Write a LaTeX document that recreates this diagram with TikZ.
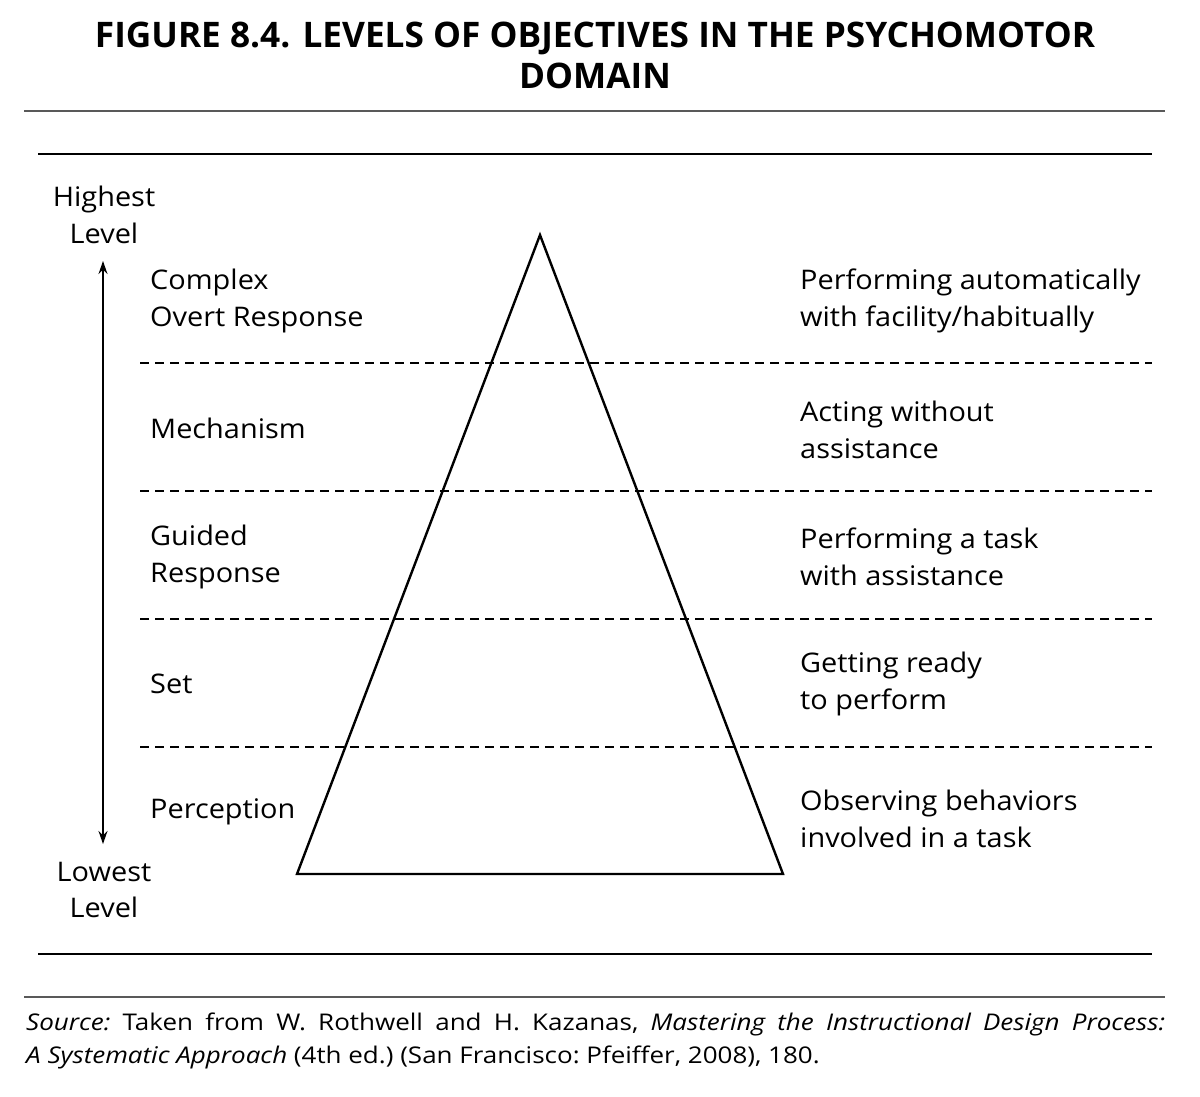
\documentclass[tikz,border=0pt]{standalone}
\usepackage{fontspec}
\setmainfont{Open Sans}
\newfontfamily\bodyfont[FakeStretch=1.07]{Open Sans}
\newfontfamily\srcfont[FakeStretch=1.13]{Open Sans}
\usetikzlibrary{arrows.meta}
\begin{document}
\begin{tikzpicture}[x=1pt,y=-1pt,
  lbl/.style={inner sep=0pt, align=left, anchor=west, font=\bodyfont\fontsize{27}{36.5}\selectfont},
  side/.style={inner sep=0pt, align=center, font=\bodyfont\fontsize{27}{36.5}\selectfont},
  rule/.style={line width=1.4pt},
  grule/.style={line width=2.2pt, draw=black!65},
  sepline/.style={line width=1.3pt, dash pattern=on 9pt off 6pt},
  tri/.style={line width=2.4pt, line join=miter}]
\useasboundingbox (0,0) rectangle (1200,1096);
% title
\node[inner sep=0pt, align=center, font=\bfseries\fontsize{35.2}{41}\selectfont] (title) at (595,55)
  {FIGURE 8.4. LEVELS OF OBJECTIVES IN THE PSYCHOMOTOR\\DOMAIN};
% rules
\coordinate (r1a) at (24,111); \coordinate (r1b) at (1165,111);
\coordinate (r2a) at (38,154); \coordinate (r2b) at (1152,154);
\coordinate (r3a) at (38,954); \coordinate (r3b) at (1152,954);
\coordinate (r4a) at (24,997); \coordinate (r4b) at (1165,997);
\draw[grule] (r1a) -- (r1b);
\draw[rule] (r2a) -- (r2b);
\draw[rule] (r3a) -- (r3b);
\draw[grule] (r4a) -- (r4b);
% dashed separators
\foreach \yy [count=\i] in {363,491,619,747}{
  \coordinate (d\i a) at (140,\yy); \coordinate (d\i b) at (1152,\yy);
  \draw[sepline] (d\i a) -- (d\i b);
}
% triangle
\coordinate (apex) at (540,235);
\coordinate (bl) at (297,874);
\coordinate (br) at (783,874);
\draw[tri] (apex) -- (bl) -- (br) -- cycle;
% side labels and arrow
\node[side] (hi) at (104,215) {Highest\\Level};
\node[side] (lo) at (104,890) {Lowest\\Level};
\coordinate (atop) at (103,261);
\coordinate (abot) at (103,844);
\draw[line width=1.3pt, {Stealth[length=13pt,width=9pt]}-{Stealth[length=13pt,width=9pt]}] (atop) -- (abot);
% left labels
\node[lbl] (l5) at (150,301) {Complex\\Overt Response};
\node[lbl] (l4) at (150,428) {Mechanism};
\node[lbl] (l3) at (150,557) {Guided\\Response};
\node[lbl] (l2) at (150,684) {Set};
\node[lbl] (l1) at (150,812) {Perception};
% right labels
\node[lbl] (r5) at (800,301) {Performing automatically\\with facility/habitually};
\node[lbl] (r4) at (800,430) {Acting without\\assistance};
\node[lbl] (r3) at (800,557) {Performing a task\\with assistance};
\node[lbl] (r2) at (800,684) {Getting ready\\to perform};
\node[lbl] (r1) at (800,819) {Observing behaviors\\involved in a task};
% source
\node[inner sep=0pt, anchor=north west, text width=1139pt, align=justify,
  font=\srcfont\fontsize{23}{33}\selectfont\frenchspacing] (src) at (26,1013)
  {\textit{Source:} Taken from W. Rothwell and H. Kazanas, \textit{Mastering the Instructional Design Process:}\linebreak \textit{A Systematic Approach} (4th ed.) (San Francisco: Pfeiffer, 2008), 180.};
\end{tikzpicture}
\end{document}
